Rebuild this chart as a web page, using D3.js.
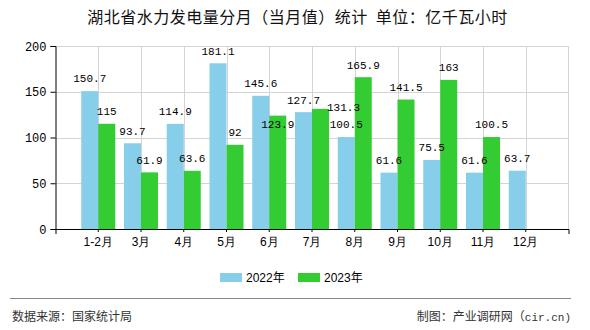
<!DOCTYPE html>
<html>
<head>
<meta charset="utf-8">
<script src="https://cdn.jsdelivr.net/npm/d3@7"></script>
<style>
  html, body { margin: 0; padding: 0; background: #fff; }
  svg { display: block; }
</style>
</head>
<body>
<div id="chart"></div>
<script>
const categories = ["1-2月", "3月", "4月", "5月", "6月", "7月", "8月", "9月", "10月", "11月", "12月"];
const series2022 = [150.7, 93.7, 114.9, 181.1, 145.6, 127.7, 100.5, 61.6, 75.5, 61.6, 63.7];
const series2023 = [115, 61.9, 63.6, 92, 123.9, 131.3, 165.9, 141.5, 163, 100.5, null];
const seriesNames = ["2022年", "2023年"];
const yTicks = [0, 50, 100, 150, 200];
const titleText = "湖北省水力发电量分月（当月值）统计  单位：亿千瓦小时";
const sourceText = "数据来源：国家统计局";
const creditCJK = "制图：产业调研网（";
const creditLatin = "cir.cn)";

// layout / style (not data)
const W = 590, H = 330;
const colors = ["#87CEEB", "#33CC33"];
const plot = { left: 55.5, right: 568.5, top: 46, bottom: 229 };
const barW = 17;
// label collision nudges (series index, category index) -> [dx, dy]
const labelNudge = { "1-4": [0, 21], "1-5": [23, 11] };

const svg = d3.select("#chart").append("svg")
  .attr("width", W).attr("height", H)
  .style("font-family", "'Noto Sans CJK SC', 'DejaVu Sans', sans-serif");

// title
svg.append("text")
  .attr("x", 297.5).attr("y", 17).attr("dy", "0.35em")
  .attr("text-anchor", "middle")
  .style("white-space", "pre")
  .style("letter-spacing", "0.5px")
  .style("font-size", "16px").style("fill", "#111")
  .text(titleText);

const x = d3.scaleBand().domain(categories)
  .range([plot.left, plot.right]).paddingInner(0).paddingOuter(0.5);
const step = x.step();
const xs = d3.scaleBand().domain(seriesNames)
  .range([step / 2 - barW, step / 2 + barW]);
const y = d3.scaleLinear().domain([0, 200]).range([plot.bottom, plot.top]);

const grid = svg.append("g");
grid.selectAll("line.h").data(yTicks.filter(d => d > 0)).join("line")
  .attr("x1", plot.left).attr("x2", plot.right)
  .attr("y1", d => Math.round(y(d)) + 0.5).attr("y2", d => Math.round(y(d)) + 0.5)
  .attr("stroke", "#d4d4d4").attr("stroke-width", 1);
grid.selectAll("line.v").data(categories).join("line")
  .attr("x1", d => Math.round(x(d) + step / 2) + 0.5)
  .attr("x2", d => Math.round(x(d) + step / 2) + 0.5)
  .attr("y1", plot.top).attr("y2", plot.bottom)
  .attr("stroke", "#d4d4d4").attr("stroke-width", 1);
grid.append("line")
  .attr("x1", plot.right).attr("x2", plot.right)
  .attr("y1", plot.top).attr("y2", plot.bottom)
  .attr("stroke", "#d4d4d4").attr("stroke-width", 1);

const allSeries = [series2022, series2023];
const bars = svg.append("g");
allSeries.forEach((vals, si) => {
  bars.selectAll(null).data(vals.map((v, i) => ({ v, c: categories[i] })).filter(d => d.v != null))
    .join("rect")
    .attr("x", d => x(d.c) + xs(seriesNames[si]))
    .attr("width", xs.bandwidth())
    .attr("y", d => y(d.v))
    .attr("height", d => y(0) - y(d.v))
    .attr("fill", colors[si]);
});

const yAxis = d3.axisLeft(y).tickValues(yTicks).tickSize(5).tickPadding(4);
const gy = svg.append("g").attr("transform", `translate(${plot.left},0)`).call(yAxis);
gy.select(".domain").attr("stroke", "#000");
gy.selectAll(".tick line").attr("stroke", "#000");
gy.selectAll(".tick text").style("font-size", "12px").style("fill", "#000")
  .style("font-family", "'Liberation Mono', 'DejaVu Sans Mono', monospace")
  .attr("dy", "0.35em");

const xAxis = d3.axisBottom(x).tickSize(3).tickSizeOuter(5).tickPadding(5);
const gx = svg.append("g").attr("transform", `translate(0,${plot.bottom})`).call(xAxis);
gx.select(".domain").attr("stroke", "#000");
gx.selectAll(".tick line").attr("stroke", "#000");
gx.selectAll(".tick text").style("font-size", "12px").style("fill", "#000");

const labels = svg.append("g")
  .style("font-family", "'Liberation Mono', 'DejaVu Sans Mono', monospace")
  .style("font-size", "11px");
allSeries.forEach((vals, si) => {
  vals.forEach((v, i) => {
    if (v == null) return;
    const n = labelNudge[si + "-" + i] || [0, 0];
    labels.append("text")
      .attr("x", x(categories[i]) + xs(seriesNames[si]) + xs.bandwidth() / 2 + n[0])
      .attr("y", y(v) - 12.5 + n[1])
      .attr("dy", "0.35em")
      .attr("text-anchor", "middle")
      .style("fill", "#000")
      .text(String(v));
  });
});

const legend = svg.append("g").style("font-size", "12px")
  .style("font-family", "'Liberation Sans', 'Noto Sans CJK SC', sans-serif");
const legendX = [220, 298];
seriesNames.forEach((name, si) => {
  legend.append("rect").attr("x", legendX[si]).attr("y", 273)
    .attr("width", 22).attr("height", 9).attr("fill", colors[si]);
  legend.append("text").attr("x", legendX[si] + 26).attr("y", 277.5)
    .attr("dy", "0.35em").style("fill", "#000").text(name);
});

svg.append("line").attr("x1", 10).attr("x2", 571).attr("y1", 298.5).attr("y2", 298.5)
  .attr("stroke", "#888").attr("stroke-width", 1.2);
svg.append("text").attr("x", 12).attr("y", 316.5).attr("dy", "0.35em")
  .style("font-size", "12px").style("fill", "#333").text(sourceText);
const credit = svg.append("text").attr("x", 571).attr("y", 316.5).attr("dy", "0.35em")
  .attr("text-anchor", "end")
  .style("font-size", "12px").style("fill", "#333");
credit.append("tspan").text(creditCJK);
credit.append("tspan")
  .style("font-family", "'Liberation Mono', 'DejaVu Sans Mono', monospace")
  .style("font-size", "11px")
  .text(creditLatin);
</script>
</body>
</html>
